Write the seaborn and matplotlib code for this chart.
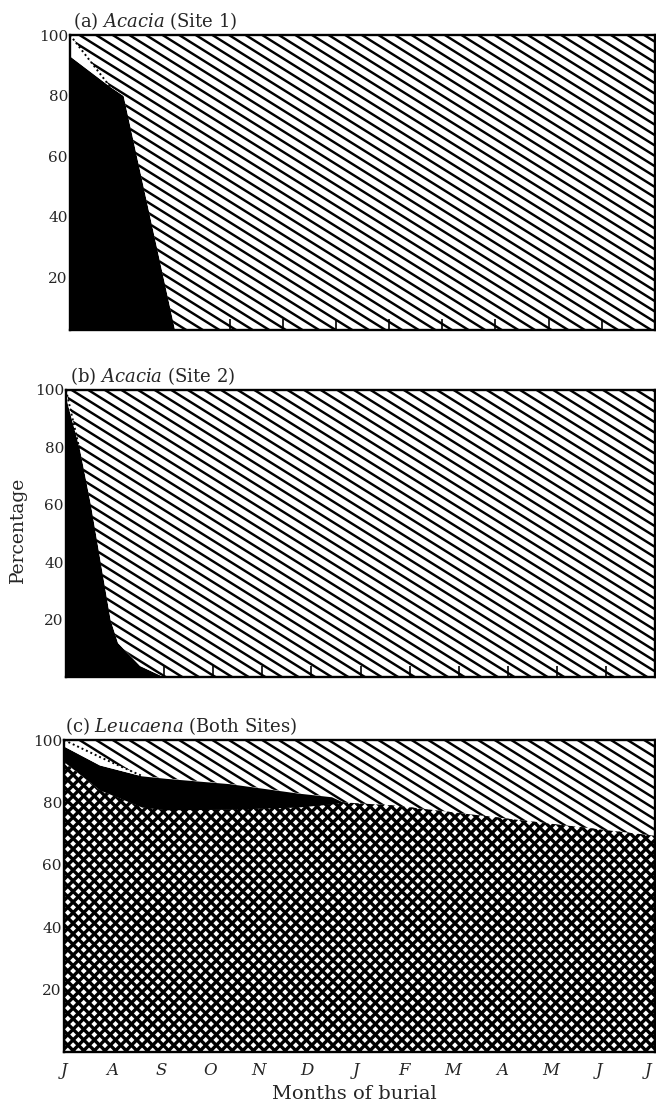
import numpy as np
import matplotlib
matplotlib.use("Agg")
import matplotlib.pyplot as plt
from matplotlib.collections import LineCollection
import seaborn as sns

sns.set_style("white")
plt.rcParams['font.family'] = ['DejaVu Serif']
plt.rcParams['mathtext.fontset'] = 'dejavuserif'

months = ["J", "A", "S", "O", "N", "D", "J", "F", "M", "A", "M", "J", "J"]
pct_ticks = [20, 40, 60, 80, 100]

# (a) Acacia, site 1 (x in sampling intervals, 11 across the panel)
a_x = [0, 0.75, 1, 2, 11]
a_black = [93, 83, 80, 0, 0]
a_white = [100, 83, 80, 0, 0]

# (b) Acacia, site 2 (x in months)
b_x = [0, 0.28, 0.5, 0.7, 0.9, 1.05, 1.5, 2, 12]
b_black = [97, 79, 60, 40, 20, 12, 4, 0, 0]
b_white = [100, 79, 60, 40, 20, 12, 4, 0, 0]

# (c) Leucaena, both sites
c_x = [0, 0.73, 1.6, 2.1, 3.4, 4.8, 5.5, 5.75, 6.8, 12.15]
c_cross = [93, 84, 78.5, 77.6, 77.8, 78.5, 79.5, 80, 79, 69.3]
c_black = [98, 92, 88.5, 87.7, 86, 83, 81.8, 80, 79, 69.3]
c_white = [100, 94.6, 88.5, 87.7, 86, 83, 81.8, 80, 79, 69.3]


def hatch(ax, coll, angles, gap, lw):
    # draw hatch lines in pixel space, clipped to the filled area
    bb = ax.get_window_extent()
    W, H = bb.width, bb.height
    L = W + H
    corners = np.array([[0, 0], [W, 0], [0, H], [W, H]])
    segs = []
    for ang in angles:
        a = np.deg2rad(ang)
        d = np.array([np.cos(a), np.sin(a)])
        n = np.array([-np.sin(a), np.cos(a)])
        c = corners @ n
        for k in np.arange(c.min(), c.max() + gap, gap):
            p0 = k * n - L * d
            p1 = k * n + L * d
            segs.append([(p0[0] / W, p0[1] / H), (p1[0] / W, p1[1] / H)])
    lc = LineCollection(segs, colors='black', linewidths=lw,
                        transform=ax.transAxes, zorder=1.5)
    ax.add_collection(lc, autolim=False)
    lc.set_clip_path(coll.get_paths()[0], ax.transData)
    lc.set_clip_box(ax.bbox)


def px_rect(left, right, top, bottom):
    return [left / 656, 1 - bottom / 1107, (right - left) / 656, (bottom - top) / 1107]


fig = plt.figure(figsize=(6.56, 11.07), dpi=100)
ax_a = fig.add_axes(px_rect(70, 655, 35, 330))
ax_b = fig.add_axes(px_rect(66, 655, 390, 677))
ax_c = fig.add_axes(px_rect(64, 655, 740, 1052))

diag = dict(angles=[-32], gap=8.8, lw=1.75)

# panel a
ax_a.fill_between(a_x, 0, a_black, color='black', lw=0, zorder=1)
ax_a.fill_between(a_x, a_black, a_white, color='white', lw=0, zorder=1)
top_a = ax_a.fill_between(a_x, a_white, 100, color='white', lw=0, zorder=1)
hatch(ax_a, top_a, **diag)
sns.lineplot(x=a_x[:2], y=a_white[:2], ax=ax_a, color='black',
             linestyle=(0, (1, 1.5)), lw=1.4, zorder=2)
ax_a.set_xlim(0, 11)
ax_a.set_ylim(2.5, 100)
ax_a.set_xticks(range(3, 11))

# panel b
ax_b.fill_between(b_x, 0, b_black, color='black', lw=0, zorder=1)
ax_b.fill_between(b_x, b_black, b_white, color='white', lw=0, zorder=1)
top_b = ax_b.fill_between(b_x, b_white, 100, color='white', lw=0, zorder=1)
hatch(ax_b, top_b, **diag)
sns.lineplot(x=b_x[:2], y=b_white[:2], ax=ax_b, color='black',
             linestyle=(0, (1, 1.5)), lw=1.4, zorder=2)
ax_b.set_xlim(0, 12)
ax_b.set_ylim(0, 100)
ax_b.set_xticks(range(2, 12))

# panel c
low_c = ax_c.fill_between(c_x, 0, c_cross, color='white', lw=0, zorder=1)
hatch(ax_c, low_c, angles=[45, -45], gap=7.5, lw=2.4)
ax_c.fill_between(c_x, c_cross, c_black, color='black', lw=0, zorder=1.6)
ax_c.fill_between(c_x, c_black, c_white, color='white', lw=0, zorder=1.6)
top_c = ax_c.fill_between(c_x, c_white, 100, color='white', lw=0, zorder=1)
hatch(ax_c, top_c, **diag)
sns.lineplot(x=c_x[:3], y=c_white[:3], ax=ax_c, color='black',
             linestyle=(0, (1, 1.5)), lw=1.4, zorder=2)
ax_c.set_xlim(0, 12.15)
ax_c.set_ylim(0, 100)
ax_c.set_xticks(range(13))
ax_c.set_xticklabels(months, fontstyle='italic', fontsize=12)
ax_c.tick_params(axis='x', length=0, pad=7)

titles = [r"(a) $\mathit{Acacia}$ (Site 1)",
          r"(b) $\mathit{Acacia}$ (Site 2)",
          r"(c) $\mathit{Leucaena}$ (Both Sites)"]
for ax, t, dx in zip([ax_a, ax_b, ax_c], titles, [2, 3, 1]):
    ax.set_axisbelow(False)
    ax.set_yticks(pct_ticks)
    ax.set_yticklabels([str(v) for v in pct_ticks], fontsize=11)
    ax.tick_params(axis='y', length=0, pad=1.5)
    for s in ax.spines.values():
        s.set_linewidth(1.7)
        s.set_color('black')
        s.set_zorder(3)
    ax.set_xlabel("")
    ax.set_ylabel("")
    ax.annotate(t, xy=(0, 1), xycoords='axes fraction', xytext=(dx, 6),
                textcoords='offset points', ha='left', va='baseline', fontsize=13)

for ax in [ax_a, ax_b]:
    ax.tick_params(axis='x', bottom=True, direction='in', length=8, width=1.2,
                   color='black', labelbottom=False)

fig.text(18 / 656, 1 - 530 / 1107, "Percentage", rotation=90,
         ha='center', va='center', fontsize=13.5)
fig.text(354 / 656, 1 - 1094 / 1107, "Months of burial",
         ha='center', va='center', fontsize=14)

fig.savefig("out.png", dpi=100)
